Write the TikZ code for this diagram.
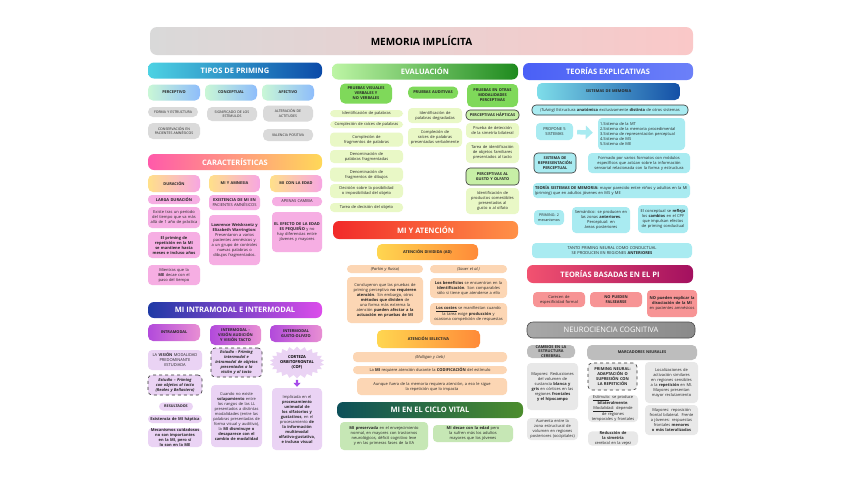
\documentclass[tikz,border=0pt]{standalone}
\usepackage{fontspec}
\setmainfont{Open Sans}
\usepackage{xcolor}
\usepackage{tikz}
\usetikzlibrary{arrows.meta,positioning,shapes.symbols}
\hyphenpenalty=10000
\exhyphenpenalty=10000
\definecolor{titL}{HTML}{D9D9D9}
\definecolor{titR}{HTML}{FAC8C8}
\definecolor{tipL}{HTML}{4DD2E3}
\definecolor{tipR}{HTML}{0B4AA8}
\definecolor{tipsL}{HTML}{C9F7D6}
\definecolor{tipsR}{HTML}{8EBDFB}
\definecolor{greyit}{HTML}{DADADA}
\definecolor{carL}{HTML}{FF5AAA}
\definecolor{carR}{HTML}{FFD858}
\definecolor{carsL}{HTML}{FFE08A}
\definecolor{carsR}{HTML}{F7A6E2}
\definecolor{pinkit}{HTML}{F6AEE3}
\definecolor{intL}{HTML}{1F3AA6}
\definecolor{intR}{HTML}{DC4CEB}
\definecolor{intsL}{HTML}{B24ADB}
\definecolor{intsR}{HTML}{E88FD3}
\definecolor{lavit}{HTML}{EAD3F4}
\definecolor{purarr}{HTML}{A64BEA}
\definecolor{evL}{HTML}{BDF5A5}
\definecolor{evR}{HTML}{1E8A1E}
\definecolor{evs}{HTML}{7FD95A}
\definecolor{evit}{HTML}{E9F8C6}
\definecolor{evbd}{HTML}{C7EFA6}
\definecolor{atL}{HTML}{F12A2A}
\definecolor{atR}{HTML}{FF9147}
\definecolor{atsL}{HTML}{FFD650}
\definecolor{atsR}{HTML}{FF8A38}
\definecolor{peach}{HTML}{FCD6B4}
\definecolor{cvL}{HTML}{0D5059}
\definecolor{cvR}{HTML}{4C8D2D}
\definecolor{cvit}{HTML}{C6E7B5}
\definecolor{teoL}{HTML}{4A60F6}
\definecolor{teoR}{HTML}{6C80F8}
\definecolor{smL}{HTML}{7EDDE9}
\definecolor{smR}{HTML}{134FA6}
\definecolor{cyit}{HTML}{A9EBF1}
\definecolor{tbL}{HTML}{F25270}
\definecolor{tbR}{HTML}{A3105F}
\definecolor{salm}{HTML}{F79495}
\definecolor{neL}{HTML}{A8A8A8}
\definecolor{neR}{HTML}{8A8A8A}
\definecolor{neus}{HTML}{BDBDBD}
\definecolor{neit}{HTML}{E8E8E8}

\begin{document}
\begin{tikzpicture}[x=1pt,y=-1pt,
  hd/.style={rounded corners=6pt,text=white,inner sep=0pt,align=center,
             font=\bfseries\fontsize{7.5}{9}\selectfont},
  sb/.style={rounded corners=5pt,inner xsep=2pt,inner ysep=0pt,align=center,
             text=black!85,font=\bfseries\fontsize{3.9}{4.9}\selectfont},
  it/.style={rounded corners=4pt,inner xsep=2pt,inner ysep=0pt,align=center,
             text=black!85,font=\fontsize{4}{5}\selectfont},
  bit/.style={it,font=\bfseries\fontsize{4}{5}\selectfont},
  capit/.style={it,rounded corners=5pt,font=\fontsize{3.5}{4.5}\selectfont},
  wh/.style 2 args={text width=#1,minimum height=#2},
  mw/.style 2 args={minimum width=#1,minimum height=#2},
  bd/.style={draw=black!80,line width=0.6pt},
  dsh/.style={draw=black!80,line width=0.6pt,dashed},
  bigarr/.style={line width=4.5pt,cyit,-{Triangle[length=7pt,width=13pt]},
                 shorten <=4pt,shorten >=5pt},
  parr/.style={line width=2.2pt,purarr,-{Triangle[length=4pt,width=7pt]},
               shorten <=1pt,shorten >=1pt}]
  \useasboundingbox[fill=white] (0,0) rectangle (848,477);

  \node[hd,mw={543pt}{28pt},left color=titL,right color=titR,text=black,
        rounded corners=7pt,font=\bfseries\fontsize{10}{12}\selectfont] (tt) at (421.5,41) {MEMORIA IMPLÍCITA};

  % tipos de priming
  \node[hd,mw={174pt}{16pt},left color=tipL,right color=tipR] (th) at (235,70.5) {TIPOS DE PRIMING};
  \node[sb,wh={48pt}{16pt},left color=tipsL,right color=tipsR] (tp1) at (174,92.5) {PERCEPTIVO};
  \node[sb,wh={48pt}{16pt},left color=tipsL,right color=tipsR] (tp2) at (231,92.5) {CONCEPTUAL};
  \node[sb,wh={48pt}{16pt},left color=tipsL,right color=tipsR] (tp3) at (288,92.5) {AFECTIVO};
  \node[capit,fill=greyit,wh={46pt}{10pt}] (g1) at (173,112) {FORMA Y ESTRUCTURA};
  \node[capit,fill=greyit,wh={48pt}{16pt}] (g2) at (174,131) {CONSERVACIÓN EN\\PACIENTES AMNÉSICOS};
  \node[capit,fill=greyit,wh={46pt}{14pt}] (g3) at (232,114) {SIGNIFICADO DE LOS\\ESTÍMULOS};
  \node[capit,fill=greyit,wh={46pt}{16pt}] (g4) at (288,113.5) {ALTERACIÓN DE\\ACTITUDES};
  \node[capit,fill=greyit,wh={46pt}{12pt}] (g5) at (288,135) {VALENCIA POSITIVA};

  % caracteristicas
  \node[hd,mw={174pt}{16pt},left color=carL,right color=carR] (ch) at (235,162) {CARACTERÍSTICAS};
  \node[sb,wh={48pt}{17pt},left color=carsL,right color=carsR] (cs1) at (174,183.5) {DURACIÓN};
  \node[sb,wh={47pt}{17pt},left color=carsL,right color=carsR] (cs2) at (234.5,183.5) {MI Y AMNESIA};
  \node[sb,wh={48pt}{17pt},left color=carsL,right color=carsR] (cs3) at (296,183.5) {MI CON LA EDAD};
  \node[bit,fill=pinkit,wh={48pt}{9pt}] (c1) at (174,199.5) {LARGA DURACIÓN};
  \node[it,fill=pinkit,wh={48pt}{21pt}] (c2) at (174,217.5) {Existe tras un período del tiempo que va más allá de 1 año de práctica};
  \node[bit,fill=pinkit,wh={48pt}{26pt}] (c3) at (174,245) {El priming de repetición en la MI se mantiene hasta meses e incluso años};
  \node[it,fill=pinkit,wh={48pt}{20pt}] (c4) at (174,275) {Mientras que la \textbf{ME} decae con el paso del tiempo};
  \node[it,fill=pinkit,wh={47pt}{15pt}] (c5) at (234.5,202.5) {\textbf{EXISTENCIA DE MI EN} PACIENTES AMNÉSICOS};
  \node[it,fill=pinkit,wh={47pt}{50pt}] (c6) at (234.5,240) {\textbf{Lawrence Weiskrantz y Elizabeth Warrington:} Presentaron a varios pacientes amnésicos y a un grupo de controles nuevas palabras o dibujos fragmentados.};
  \node[it,fill=pinkit,wh={46pt}{9pt}] (c7) at (297,201.5) {APENAS CAMBIA};
  \node[it,fill=pinkit,wh={46pt}{40pt}] (c8) at (297,232) {\textbf{EL EFECTO DE LA EDAD ES PEQUEÑO} y no hay diferencias entre jóvenes y mayores};

  % intramodal e intermodal
  \node[hd,mw={174pt}{16pt},left color=intL,right color=intR] (ih) at (235,310) {MI INTRAMODAL E INTERMODAL};
  \node[sb,wh={48pt}{17pt},left color=intsL,right color=intsR] (is1) at (174,332.5) {INTRAMODAL};
  \node[sb,wh={47pt}{20pt},left color=intsL,right color=intsR] (is2) at (235.5,335) {INTERMODAL - VISIÓN AUDICIÓN Y VISIÓN TACTO};
  \node[sb,wh={48pt}{17pt},left color=intsL,right color=intsR] (is3) at (296,333.5) {INTERMODAL GUSTO-OLFATO};
  \node[it,fill=lavit,wh={50pt}{20pt}] (i1) at (175,360) {LA \textbf{VISIÓN} MODALIDAD PREDOMINANTE ESTUDIADA};
  \node[bit,fill=lavit,dsh,wh={50pt}{20pt},font=\bfseries\itshape\fontsize{4}{5}\selectfont] (i2) at (175,385) {Estudio – Priming con objetos al tacto (Reales y Bellastero)};
  \node[bit,fill=lavit,wh={30pt}{8pt},font=\bfseries\fontsize{3.7}{4.6}\selectfont] (i3) at (176,406.5) {RESULTADOS};
  \node[bit,fill=lavit,wh={50pt}{8pt}] (i4) at (175,419) {Existencia de MI háptica};
  \node[bit,fill=lavit,wh={50pt}{19pt}] (i5) at (175,437.5) {Mecanismos cuidadosos no son importantes en la MI, pero sí lo son en la ME};
  \node[bit,fill=lavit,dsh,wh={47pt}{29pt},font=\bfseries\itshape\fontsize{4}{5}\selectfont] (i6) at (236.5,362.5) {Estudio - Priming intermodal e intramodal de objetos presentados a la visión y al tacto};
  \node[it,fill=lavit,wh={47pt}{62pt}] (i7) at (236.5,416) {Cuando no existe \textbf{solapamiento} entre los rangos de las LL presentados a distintas modalidades (entre las palabras presentadas de forma visual y auditiva), la \textbf{MI disminuye o desaparece con el cambio de modalidad}};
  \node[starburst,starburst points=22,starburst point height=3.5pt,random starburst=0,
        fill=lavit,inner sep=0pt,minimum width=52pt,minimum height=32pt,align=center,
        font=\bfseries\fontsize{4}{5}\selectfont] (i8) at (297,362.5) {CORTEZA\\ORBITOFRONTAL\\(COF)};
  \node[it,fill=lavit,wh={46pt}{62pt}] (i9) at (297,419) {Implicada en el \textbf{procesamiento unimodal de los olfatorios y gustativos}, en el procesamiento \textbf{de la información multimodal olfativo-gustativa, e incluso visual}};
  \draw[parr] (i8) -- (i9);

  % evaluacion
  \node[hd,mw={186pt}{16pt},left color=evL,right color=evR] (eh) at (425,71.5) {EVALUACIÓN};
  \node[sb,wh={48pt}{20pt},fill=evs] (es1) at (366,93.5) {PRUEBAS VISUALES VERBALES Y NO VERBALES};
  \node[sb,wh={46pt}{12pt},fill=evs] (es2) at (433,92.5) {PRUEBAS AUDITIVAS};
  \node[sb,wh={47pt}{23pt},fill=evs] (es3) at (492.5,95.5) {PRUEBAS EN OTRAS MODALIDADES PERCEPTIVAS};
  \node[it,fill=evit,wh={69pt}{7pt}] (e1) at (366.5,113.5) {Identificación de palabras};
  \node[it,fill=evit,wh={69pt}{7pt}] (e2) at (366.5,124.5) {Compleción de raíces de palabras};
  \node[it,fill=evit,wh={69pt}{14pt}] (e3) at (366.5,139.5) {Compleción de fragmentos de palabras};
  \node[it,fill=evit,wh={69pt}{13pt}] (e4) at (366.5,156.5) {Denominación de palabras fragmentadas};
  \node[it,fill=evit,wh={69pt}{14pt}] (e5) at (366.5,174.5) {Denominación de fragmentos de dibujos};
  \node[it,fill=evit,wh={69pt}{14pt}] (e6) at (366.5,191) {Decisión sobre la posibilidad o imposibilidad del objeto};
  \node[it,fill=evit,wh={69pt}{9pt}] (e7) at (366.5,207.5) {Tarea de decisión del objeto};
  \node[it,fill=evit,wh={50pt}{15pt}] (e8) at (435,115.5) {Identificación de palabras degradadas};
  \node[it,fill=evit,wh={50pt}{19pt}] (e9) at (435,137.5) {Compleción de raíces de palabras presentadas verbalmente};
  \node[bit,fill=evbd,bd,wh={49pt}{10pt},font=\bfseries\fontsize{3.9}{4.9}\selectfont] (e10) at (492.5,115) {PERCEPTIVAS HÁPTICAS};
  \node[it,fill=evit,wh={49pt}{15pt}] (e11) at (492.5,130.5) {Prueba de detección de la simetría bilateral};
  \node[it,fill=evit,wh={49pt}{21pt}] (e12) at (492.5,152.5) {Tarea de identificación de objetos familiares presentados al tacto};
  \node[bit,fill=evbd,bd,wh={49pt}{17pt},font=\bfseries\fontsize{3.9}{4.9}\selectfont] (e13) at (492.5,176.5) {PERCEPTIVAS AL GUSTO Y OLFATO};
  \node[it,fill=evit,wh={49pt}{26pt}] (e14) at (492.5,201) {Identificación de productos comestibles presentados al gusto o al olfato};

  % atencion
  \node[hd,mw={185pt}{18pt},left color=atL,right color=atR] (ah) at (425.5,230) {MI Y ATENCIÓN};
  \node[sb,wh={97pt}{16pt},left color=atsL,right color=atsR] (as1) at (427.5,252) {ATENCIÓN DIVIDIDA (AD)};
  \node[it,fill=peach,wh={72pt}{8pt},font=\itshape\fontsize{4}{5}\selectfont] (a1) at (385,269) {(Parkin y Russo)};
  \node[it,fill=peach,wh={73pt}{8pt},font=\itshape\fontsize{4}{5}\selectfont] (a2) at (468.5,269) {(Sauer et al.)};
  \node[it,fill=peach,wh={72pt}{46pt}] (a3) at (385,300) {Concluyeron que las pruebas de priming perceptivo \textbf{no requieren atención}. Sin embargo, otros \textbf{métodos que dividen} de una forma más extrema la atención \textbf{pueden afectar a la actuación en pruebas de MI}};
  \node[it,fill=peach,wh={73pt}{20pt}] (a4) at (468.5,288) {\textbf{Los beneficios} se encuentran en la \textbf{identificación}. Son comparables sólo si tiene que atenderse a ello};
  \node[it,fill=peach,wh={73pt}{22pt}] (a5) at (468.5,314) {\underline{\textbf{Los costes}} se manifiestan cuando la tarea exige \textbf{producción} y ocasiona competición de respuestas};
  \node[sb,wh={99pt}{18pt},left color=atsL,right color=atsR] (as2) at (428.5,339) {ATENCIÓN SELECTIVA};
  \node[it,fill=peach,wh={150pt}{10pt},font=\itshape\fontsize{4}{5}\selectfont] (a6) at (430,357) {(Mulligan y Lieb)};
  \node[it,fill=peach,wh={150pt}{8pt}] (a7) at (430,370) {La \textbf{MI} requiere atención durante la \textbf{CODIFICACIÓN} del estímulo};
  \node[it,fill=peach,wh={146pt}{17pt}] (a8) at (432,386.5) {Aunque fuera de la memoria requiera atención, a eso le sigue\\la repetición que lo impacta};

  % ciclo vital
  \node[hd,mw={186pt}{16pt},left color=cvL,right color=cvR] (vh) at (430,410) {MI EN EL CICLO VITAL};
  \node[it,fill=cvit,wh={84pt}{28pt}] (v1) at (384,436) {\textbf{MI preservada} en el envejecimiento normal, en mayores con trastornos neurológicos, déficit cognitivo leve y en las primeras fases de la EA};
  \node[it,fill=cvit,wh={76pt}{17pt}] (v2) at (473,433.5) {\textbf{MI decae con la edad} pero la sufren más los adultos mayores que los jóvenes};

  % teorias explicativas
  \node[hd,mw={170pt}{17pt},left color=teoL,right color=teoR] (th2) at (608,71.5) {TEORÍAS EXPLICATIVAS};
  \node[sb,wh={139pt}{17pt},left color=smL,right color=smR] (ts) at (608.5,91.5) {SISTEMAS DE MEMORIA};
  \node[it,fill=cyit,bd,wh={152pt}{10pt}] (t1) at (610,110) {\textit{(Tulving)} Estructura \textbf{anatómica} exclusivamente \textbf{distinta} de otros sistemas};
  \node[it,fill=cyit,wh={33pt}{17pt}] (t2) at (554.5,131.5) {PROPONE 5\\SISTEMAS};
  \node[it,fill=cyit,wh={83pt}{32pt},align=left] (t3) at (641.5,134) {1.Sistema de la MT\\2.Sistema de la memoria procedimental\\3.Sistema de representación perceptual\\4.Sistema de MS\\5.Sistema de ME};
  \draw[bigarr] (t2) -- (t3);
  \node[bit,fill=cyit,bd,wh={38pt}{20pt},font=\bfseries\fontsize{3.9}{4.9}\selectfont] (t4) at (555,163) {SISTEMA DE REPRESENTACIÓN PERCEPTUAL};
  \node[it,fill=cyit,wh={98pt}{20pt}] (t5) at (639,163) {Formado por varios formatos con módulos específicos que actúan sobre la información sensorial relacionada con la forma y estructura};
  \node[it,fill=cyit,wh={153pt}{15pt},align=left] (t6) at (611.5,190.5) {\textbf{TEORÍA SISTEMAS DE MEMORIA:} mayor parecido entre niños y adultos en la MI (priming) que en adultos jóvenes en MS y ME};
  \node[it,fill=cyit,wh={26pt}{15pt},font=\fontsize{3.7}{4.7}\selectfont] (t7) at (549,217.5) {PRIMING: 2 mecanismos};
  \node[it,fill=cyit,wh={54pt}{26pt}] (t8) at (601,220) {Semántico: se producen en las zonas \textbf{anteriores}. Perceptual: en áreas posteriores};
  \node[it,fill=cyit,wh={46pt}{28pt}] (t9) at (663,219) {El conceptual se \textbf{refleja} los \textbf{cambios} en el CPF que impulsan efectos de priming conductual};
  \node[it,fill=cyit,wh={156pt}{15pt}] (t10) at (612,250.5) {TANTO PRIMING NEURAL COMO CONDUCTUAL SE PRODUCEN EN REGIONES \textbf{ANTERIORES}};

  % teorias basadas en el PI
  \node[hd,mw={166pt}{18pt},left color=tbL,right color=tbR] (bh) at (610,274) {TEORÍAS BASADAS EN EL PI};
  \node[it,fill=salm,wh={48pt}{15pt}] (b1) at (559,299.5) {Carecen de especificidad formal};
  \node[bit,fill=salm,wh={48pt}{15pt},font=\bfseries\fontsize{3.9}{4.9}\selectfont] (b2) at (616,299.5) {NO PUEDEN\\FALSEARSE};
  \node[it,fill=salm,wh={46pt}{27pt}] (b3) at (672,303.5) {\textbf{NO pueden explicar la disociación de la MI} en pacientes amnésicos};

  % neurociencia
  \node[hd,mw={168pt}{16pt},left color=neL,right color=neR,draw=black!70,line width=0.6pt,
        font=\fontsize{7.5}{9}\selectfont] (nh) at (611,330) {NEUROCIENCIA COGNITIVA};
  \node[sb,wh={44pt}{13pt},fill=neus] (n1) at (551,351.5) {CAMBIOS EN LA ESTRUCTURA CEREBRAL};
  \node[sb,wh={106pt}{15pt},fill=neus] (n2) at (642,352.5) {MARCADORES NEURALES};
  \node[it,fill=neit,wh={47pt}{47pt}] (n3) at (552.5,386.5) {Mayores: Reducciones del volumen de sustancia \textbf{blanca y gris} en córtices en las regiones \textbf{frontales y el hipocampo}};
  \node[it,fill=neit,wh={47pt}{22pt}] (n4) at (552.5,429) {Aumenta entre la zona estructural de volumen en regiones posteriores (occipitales)};
  \node[bit,fill=neit,dsh,wh={45pt}{27pt}] (n5) at (612.5,376.5) {PRIMING NEURAL: ADAPTACIÓN O SUPRESIÓN CON LA REPETICIÓN};
  \node[it,fill=neit,wh={46pt}{27pt}] (n6) at (613,408.5) {\underline{Estímulo}: se produce \textbf{bilateralmente}. \underline{Modalidad}: depende de regiones temporales y frontales};
  \node[it,fill=neit,wh={46pt}{13pt}] (n7) at (613,438.5) {\textbf{Reducción de la simetría} cerebral en la vejez};
  \node[it,fill=neit,wh={49pt}{41pt}] (n8) at (671.5,382.5) {Localizaciones de activación similares en regiones sensibles a la \textbf{repetición} en MI. Mayores presentan mayor reclutamiento};
  \node[it,fill=neit,wh={49pt}{30pt}] (n9) at (671.5,420) {Mayores: reposición frontal bilateral. Frente a jóvenes: respuestas frontales \textbf{menores o más lateralizadas}};
\end{tikzpicture}
\end{document}
